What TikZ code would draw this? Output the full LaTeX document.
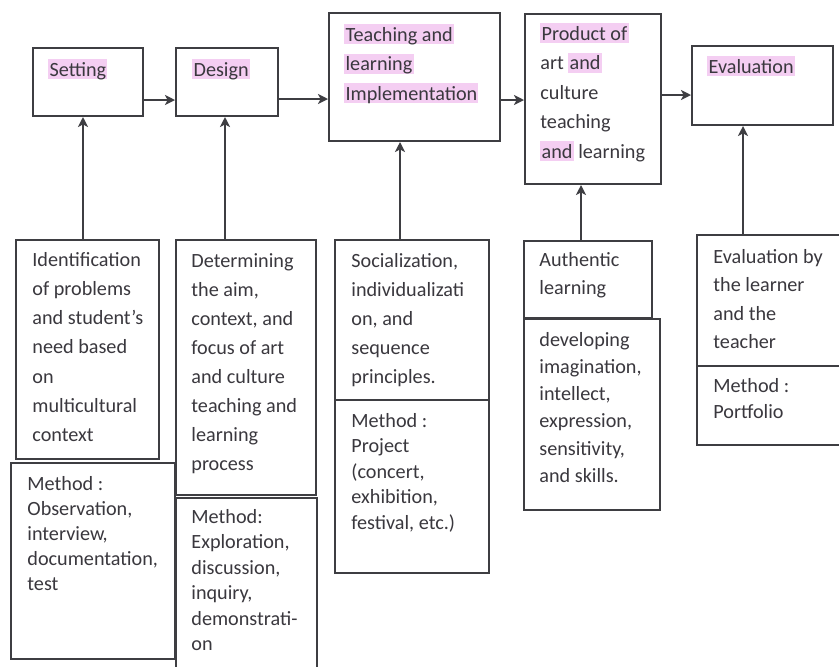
\documentclass[tikz,border=0pt]{standalone}
\usepackage{fontspec}
\setmainfont{Carlito}
\usetikzlibrary{arrows.meta,fit}
\definecolor{linec}{RGB}{62,62,66}
\definecolor{textc}{RGB}{58,56,62}
\definecolor{hlpink}{RGB}{244,206,242}
\newcommand\hl[1]{{\setlength\fboxsep{0pt}\colorbox{hlpink}{\hspace{0.6pt}\rule[-1.5pt]{0pt}{10pt}#1\hspace{0.6pt}}}}
\newcommand\lines[1]{\begin{tabular}[t]{@{}l@{}}#1\end{tabular}}
\tikzset{
  box/.style={draw=linec, line width=1pt, inner sep=0pt},
  arr/.style={draw=linec, line width=1.1pt, -{Stealth[length=5pt,width=5pt,inset=1.3pt]}},
  txt/.style={anchor=base west, inner sep=0pt, text=textc},
}
\newcommand\fs[1]{\fontsize{10.1}{#1}\selectfont}
\begin{document}
\begin{tikzpicture}[x=0.5pt,y=-0.5pt]
\useasboundingbox[fill=white] (0,0) rectangle (839,666);
\clip (0,0) rectangle (839,666);
% top boxes
\node[box, fit={(33,48) (143,116)}] (setting) {};
\node[box, fit={(176,48) (278,116)}] (design) {};
\node[box, fit={(329,13) (500,141)}] (teach) {};
\node[box, fit={(525,14) (661,184)}] (product) {};
\node[box, fit={(692,46) (833,125)}] (evaluation) {};
% bottom boxes
\node[box, fit={(16,240) (159,459)}] (ident) {};
\node[box, fit={(11,463) (175,659)}] (observ) {};
\node[box, fit={(176,240) (316,495)}] (determ) {};
\node[box, fit={(176,498) (317,672)}] (explor) {};
\node[box, fit={(335,240) (489,400)}] (social) {};
\node[box, fit={(335,400) (489,573)}] (project) {};
\node[box, fit={(524,241) (652,318)}] (authentic) {};
\node[box, fit={(524,319) (660,510)}] (develop) {};
\node[box, fit={(697,235) (850,366)}] (evalby) {};
\node[box, fit={(697,366) (850,445)}] (portf) {};
% texts
\node[txt, font=\fs{14.6}] (tsetting) at (48,76) {\hl{Setting}};
\node[txt, font=\fs{14.6}] (tdesign) at (192,76) {\hl{Design}};
\node[txt, font=\fs{14.75}] (tteach) at (344,41) {\lines{\hl{Teaching and}\\\hl{learning}\\\hl{Implementation}}};
\node[txt, font=\fs{14.75}] (tproduct) at (540,40) {\lines{\hl{Product of}\\art \hl{and}\\culture\\teaching\\\hl{and} learning}};
\node[txt, font=\fs{14.6}] (tevaluation) at (707,73) {\hl{Evaluation}};
\node[txt, font=\fs{14.65}] (tident) at (32,266) {\lines{Identification\\of problems\\and student’s\\need based\\on\\multicultural\\context}};
\node[txt, font=\fs{12.6}] (tobserv) at (27,490) {\lines{Method :\\Observation,\\interview,\\documentation,\\test}};
\node[txt, font=\fs{14.5}] (tdeterm) at (191,267) {\lines{Determining\\the aim,\\context, and\\focus of art\\and culture\\teaching and\\learning\\process}};
\node[txt, font=\fs{12.75}] (texplor) at (191,523) {\lines{Method:\\Exploration,\\discussion,\\inquiry,\\demonstrati-\\on}};
\node[txt, font=\fs{14.5}] (tsocial) at (351,267) {\lines{Socialization,\\individualizati\\on, and\\sequence\\principles.}};
\node[txt, font=\fs{12.75}] (tproject) at (351,427) {\lines{Method :\\Project\\(concert,\\exhibition,\\festival, etc.)}};
\node[txt, font=\fs{14}] (tauthentic) at (539,266) {\lines{Authentic\\learning}};
\node[txt, font=\fs{13.65}] (tdevelop) at (539,346) {\lines{developing\\imagination,\\intellect,\\expression,\\sensitivity,\\and skills.}};
\node[txt, font=\fs{14.25}] (tevalby) at (713,263) {\lines{Evaluation by\\the learner\\and the\\teacher}};
\node[txt, font=\fs{13.35}] (tportf) at (713,392) {\lines{Method :\\Portfolio}};
% helper coordinates
\coordinate (r1) at (0,100);
\coordinate (r2) at (0,99);
\coordinate (r3) at (0,100);
\coordinate (r4) at (0,95);
\coordinate (c1) at (83,0);
\coordinate (c2) at (225,0);
\coordinate (c3) at (400,0);
\coordinate (c4) at (581,0);
\coordinate (c5) at (743,0);
% horizontal arrows
\draw[arr] (setting.east |- r1) -- (design.west |- r1);
\draw[arr] (design.east |- r2) -- (teach.west |- r2);
\draw[arr] (teach.east |- r3) -- (product.west |- r3);
\draw[arr] (product.east |- r4) -- (evaluation.west |- r4);
% vertical arrows
\draw[arr] (ident.north -| c1) -- (setting.south -| c1);
\draw[arr] (determ.north -| c2) -- (design.south -| c2);
\draw[arr] (social.north -| c3) -- (teach.south -| c3);
\draw[arr] (authentic.north -| c4) -- (product.south -| c4);
\draw[arr] (evalby.north -| c5) -- (evaluation.south -| c5);
\end{tikzpicture}
\end{document}
